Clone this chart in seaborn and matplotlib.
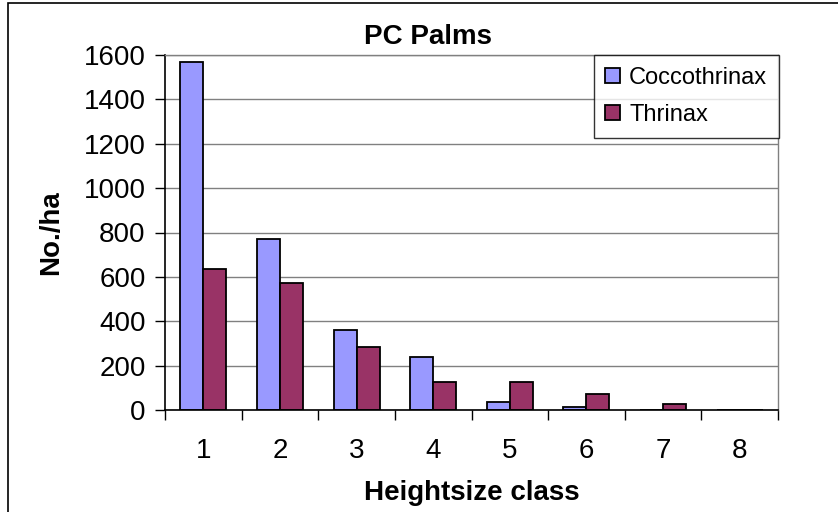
import matplotlib
matplotlib.use("Agg")
import matplotlib.pyplot as plt
import seaborn as sns
import pandas as pd
from matplotlib.patches import Rectangle

classes = ["1", "2", "3", "4", "5", "6", "7", "8"]
coccothrinax = [1570, 770, 362, 238, 37, 12, 0, 0]
thrinax = [635, 572, 284, 127, 127, 73, 28, 0]
series_names = ["Coccothrinax", "Thrinax"]
colors = ["#9999FF", "#993366"]
yticks = [0, 200, 400, 600, 800, 1000, 1200, 1400, 1600]

df = pd.DataFrame({
    "class": classes * 2,
    "value": coccothrinax + thrinax,
    "series": [series_names[0]] * len(classes) + [series_names[1]] * len(classes),
})

sns.set_style("white")
plt.rcParams["font.family"] = ["Liberation Sans", "DejaVu Sans"]
plt.rcParams["text.color"] = "black"
plt.rcParams["axes.labelcolor"] = "black"
plt.rcParams["xtick.color"] = "black"
plt.rcParams["ytick.color"] = "black"

fig = plt.figure(figsize=(8.38, 5.12), dpi=100)
ax = fig.add_axes([165/838, 1-410/512, (778-165)/838, (410-55)/512])

sns.barplot(data=df, x="class", y="value", hue="series", palette=colors,
            width=0.6, edgecolor="black", linewidth=1.3, ax=ax, legend=True,
            saturation=1)

ax.set_xlim(-0.5, 7.5)
ax.set_ylim(0, 1600)
ax.set_yticks(yticks)
ax.set_yticklabels([str(v) for v in yticks], fontsize=20)
ax.yaxis.grid(True, color="#808080", linewidth=1)
ax.set_axisbelow(True)

# x ticks at category boundaries, labels at centers
ax.set_xticks([i - 0.5 for i in range(len(classes) + 1)])
ax.set_xticklabels([])
ax.set_xticks(range(len(classes)), minor=True)
ax.set_xticklabels(classes, minor=True, fontsize=20)
ax.tick_params(axis="x", which="major", direction="out", length=7, width=1, color="black", bottom=True)
ax.tick_params(axis="x", which="minor", length=0, pad=20)
ax.tick_params(axis="y", direction="out", length=7, width=1, color="black", left=True, pad=7)

for s in ["left", "bottom"]:
    ax.spines[s].set_color("black")
    ax.spines[s].set_linewidth(1.2)
for s in ["right", "top"]:
    ax.spines[s].set_visible(True)
    ax.spines[s].set_color("#808080")
    ax.spines[s].set_linewidth(1)

ax.set_xlabel("Heightsize class", fontsize=20, fontweight="bold", labelpad=12)
ax.set_ylabel("No./ha", fontsize=20, fontweight="bold", labelpad=14)

fig.text(428/838, 1-37/512, "PC Palms", ha="center", va="center", fontsize=20, fontweight="bold")

handles, labels = ax.get_legend_handles_labels()
ax.get_legend().remove()
leg = fig.legend(handles, labels, loc="upper right", bbox_to_anchor=(779/838, 1-55/512),
                 fontsize=17, frameon=True, fancybox=False, borderaxespad=0,
                 handlelength=0.6, handleheight=0.6, handletextpad=0.4,
                 labelspacing=0.65, borderpad=0.5)
leg.get_frame().set_edgecolor("black")
leg.get_frame().set_linewidth(1)
for h in leg.legend_handles:
    h.set_edgecolor("black")
    h.set_linewidth(1.3)

fig.patches.append(Rectangle((8/838, -0.1), 2, 1 - 3/512 + 0.1, transform=fig.transFigure,
                             fill=False, edgecolor="black", linewidth=1.2))

fig.savefig("out.png", dpi=100)
